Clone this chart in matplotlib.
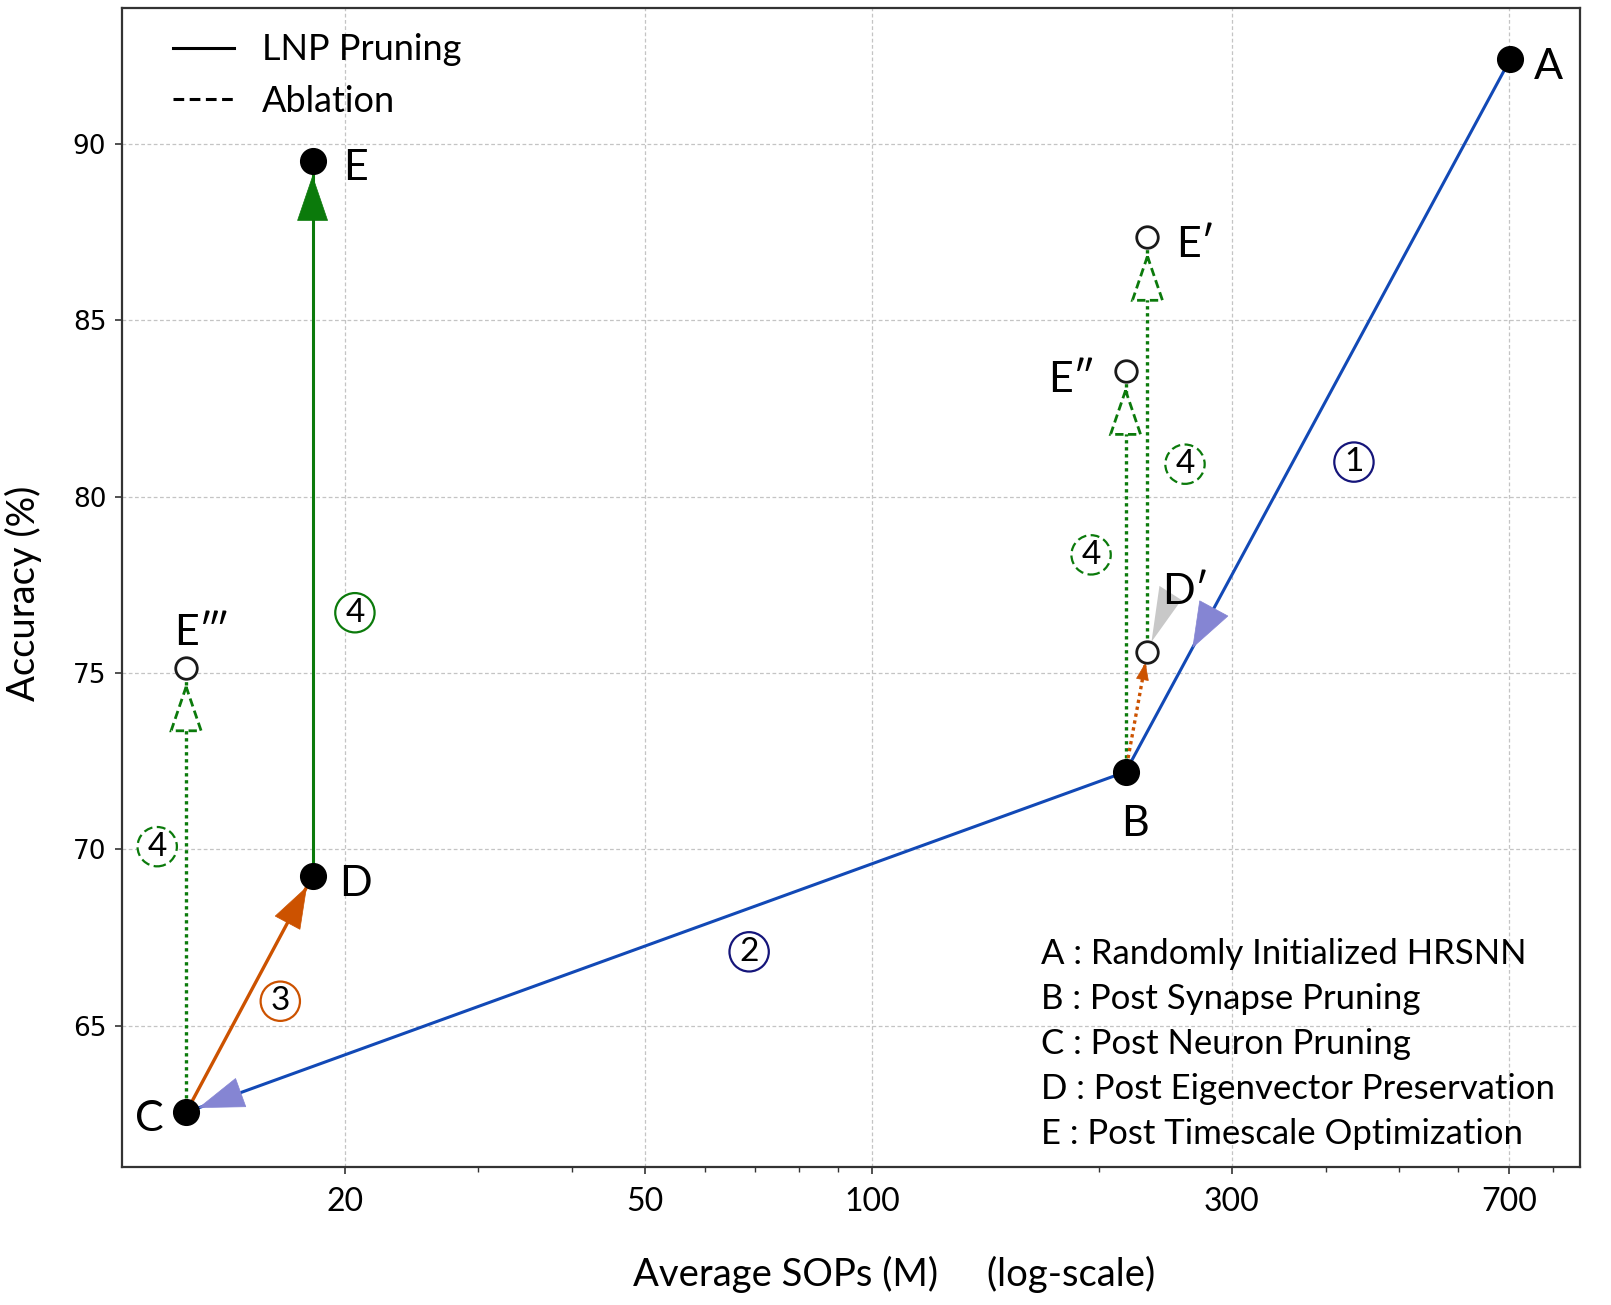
import numpy as np
import matplotlib.pyplot as plt
from matplotlib.lines import Line2D
from matplotlib.patches import Polygon
from matplotlib.transforms import IdentityTransform
from matplotlib.ticker import NullFormatter

plt.rcParams['font.family'] = ['Lato', 'DejaVu Sans']

# LNP pruning path: average SOPs (M) and accuracy (%)
main_labels = ["A", "B", "C", "D", "E"]
main_sops = [703, 217, 12.3, 18.1, 18.1]
main_acc = [92.4, 72.2, 62.55, 69.25, 89.5]

# ablation points
abl_labels = ["E′", "E″", "E‴", "D′"]
abl_sops = [232, 217, 12.3, 232]
abl_acc = [87.35, 83.55, 75.15, 75.6]

xtick_vals = [20, 50, 100, 300, 700]
xtick_text = ["20", "50", "100", "300", "700"]
ytick_vals = [65, 70, 75, 80, 85, 90]

stage_text = ["A : Randomly Initialized HRSNN",
              "B : Post Synapse Pruning",
              "C : Post Neuron Pruning",
              "D : Post Eigenvector Preservation",
              "E : Post Timescale Optimization"]

BLUE = '#1249b6'
LAV = '#8585d3'
ORANGE = '#cc5200'
GREEN = '#0b7a0b'

fig = plt.figure(figsize=(16.11, 13.05), dpi=100)
ax = fig.add_axes([0.0755, 0.1057, 0.9053, 0.8882])
ax.set_xscale('log')
ax.set_xlim(10.1, 870)
ax.set_ylim(61.0, 93.85)

P = dict(zip(main_labels, zip(main_sops, main_acc)))
P.update(zip(abl_labels, zip(abl_sops, abl_acc)))


def px(name):
    return ax.transData.transform(P[name])


def tri(pts, **kw):
    ax.add_patch(Polygon(pts, closed=True, transform=IdentityTransform(), **kw))


def head(tip, frm, color, back=0, length=44, width=30, fc=None, ls='-', lw=1.5, z=4):
    # triangle arrow head drawn in pixel space
    d = tip - frm
    d = d / np.hypot(*d)
    t = tip - d * back
    b = t - d * length
    n = np.array([-d[1], d[0]]) * width / 2
    tri([t, b + n, b - n], fc=color if fc is None else fc, ec=color, lw=lw, ls=ls,
        zorder=z, joinstyle='miter')


def seg(a, b, color, ls='-', lw=2.2):
    ax.plot([P[a][0], P[b][0]], [P[a][1], P[b][1]], color=color, ls=ls, lw=lw, zorder=2)


def circ(x, y, s, color, dashed=False):
    ax.text(x, y, s, ha='center', va='center', fontsize=24, zorder=7,
            bbox=dict(boxstyle='circle,pad=0.14', fc='white', ec=color, lw=1.6,
                      ls=(0, (4, 2)) if dashed else '-'))


dot = (0, (1, 1.1))
seg("A", "B", BLUE)
seg("B", "C", BLUE)
seg("C", "D", ORANGE, lw=2.4)
seg("D", "E", GREEN)
seg("C", "E‴", GREEN, ls=dot, lw=2.4)
seg("B", "E″", GREEN, ls=dot, lw=2.4)
seg("D′", "E′", GREEN, ls=dot, lw=2.4)
seg("B", "D′", ORANGE, ls=dot, lw=2.4)

pA, pB = px("A"), px("B")
head(pB + 0.175 * (pA - pB), pA, LAV, length=44, width=32, lw=0.5)
head(px("C"), pB, LAV, back=14, lw=0.5)
head(px("D"), px("C"), ORANGE, back=13, length=40, width=28, lw=0.5)
head(px("E"), px("D"), GREEN, back=15, lw=0.5)
hollow = dict(fc='white', ls=(0, (3, 1.6)), lw=2.0)
head(px("E‴"), px("C"), GREEN, back=19, **hollow)
head(px("E″"), pB, GREEN, back=19, **hollow)
head(px("E′"), px("D′"), GREEN, back=19, **hollow)
head(px("D′"), pB, ORANGE, back=12, length=16, width=12, lw=0.5)

# grey wedge linking the D' label to its point
pD1 = px("D′")
tri([pD1 + (4, 10), pD1 + (12, 66), pD1 + (34, 52)], fc='#c8c8c8', ec='none', zorder=3)

ax.plot(main_sops, main_acc, 'o', ms=18.5, color='black', ls='none', zorder=6)
ax.plot(abl_sops, abl_acc, 'o', ms=15.5, mfc='white', mec='#1a1a1a', mew=2,
        ls='none', zorder=6)

# point labels (offsets in pixels)
offs = {"A": (38, -8), "B": (9, -52), "C": (-37, -7), "D": (43, -8), "E": (43, -7),
        "E′": (48, -8), "E″": (-54, -9), "E‴": (16, 35), "D′": (38, 60)}
for name, o in offs.items():
    ax.annotate(name, P[name], xytext=o, textcoords='offset pixels', fontsize=31,
                ha='center', va='center', zorder=8)

circ(436, 80.98, "1", '#15157a')
circ(68.7, 67.1, "2", '#15157a')
circ(16.4, 65.7, "3", ORANGE)
circ(20.6, 76.71, "4", GREEN)
circ(11.26, 70.08, "4", GREEN, dashed=True)
circ(195.3, 78.35, "4", GREEN, dashed=True)
circ(260.2, 80.92, "4", GREEN, dashed=True)

for i, s in enumerate(stage_text):
    ax.text(0.6304, 0.1837 - i * 0.0389, s, transform=ax.transAxes, fontsize=25,
            ha='left', va='center', zorder=8)

handles = [Line2D([], [], color='black', lw=2.2, ls='-'),
           Line2D([], [], color='black', lw=2.2, ls=(0, (3.5, 1.8)))]
ax.legend(handles, ["LNP Pruning", "Ablation"], loc='upper left',
          bbox_to_anchor=(0.035, 0.978), frameon=False, fontsize=26,
          handlelength=1.7, handletextpad=0.78, labelspacing=0.5,
          borderpad=0, borderaxespad=0)

ax.set_xticks(xtick_vals)
ax.set_xticklabels(xtick_text)
ax.xaxis.set_minor_formatter(NullFormatter())
ax.set_yticks(ytick_vals)
ax.grid(True, which='major', ls=(0, (3, 2)), lw=0.9, color='#c4c4c4')
ax.set_axisbelow(True)
for sp in ax.spines.values():
    sp.set_linewidth(1.6)
    sp.set_color('#333333')
ax.tick_params(which='major', direction='out', length=5, width=1.2, color='#333333')
ax.tick_params(which='minor', direction='out', length=3.5, width=1.0, color='#333333')
ax.tick_params(axis='x', labelsize=23, pad=9)
ax.tick_params(axis='y', labelsize=19, pad=6)
for lbl in ax.get_yticklabels():
    lbl.set_fontfamily('DejaVu Sans')

ax.text(0.53, -0.093, "Average SOPs (M)     (log-scale)", transform=ax.transAxes,
        fontsize=27.5, ha='center', va='center')
ax.text(-0.0675, 0.495, "Accuracy (%)", transform=ax.transAxes, fontsize=27.5,
        rotation=90, ha='center', va='center')

fig.savefig("out.png", dpi=100)
